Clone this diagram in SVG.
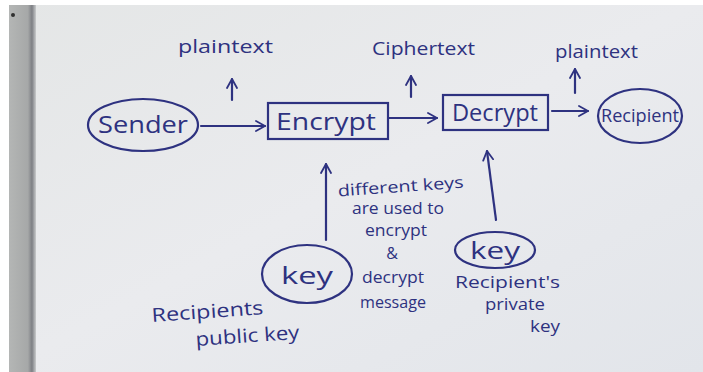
<svg xmlns="http://www.w3.org/2000/svg" width="703" height="372" viewBox="0 0 703 372">
  <defs>
    <linearGradient id="paper" x1="0" y1="0" x2="1" y2="1">
      <stop offset="0" stop-color="#e4e6e6"/>
      <stop offset="0.5" stop-color="#eaebee"/>
      <stop offset="1" stop-color="#e2e5ea"/>
    </linearGradient>
    <linearGradient id="edge" x1="0" y1="0" x2="1" y2="0">
      <stop offset="0" stop-color="#b4b6b5"/>
      <stop offset="0.7" stop-color="#a6a8a8"/>
      <stop offset="0.85" stop-color="#7d7f84"/>
      <stop offset="1" stop-color="#c9cbcc"/>
    </linearGradient>
    <marker id="head" viewBox="0 0 12 12" refX="10" refY="6" markerWidth="12" markerHeight="12" markerUnits="userSpaceOnUse" orient="auto">
      <polyline points="1,1 10,6 1,11" fill="none" stroke="#2e3280" stroke-width="1.8" stroke-linecap="round" stroke-linejoin="round"/>
    </marker>
    <style>
      .ink { fill: none; stroke: #2e3280; stroke-width: 2.2; stroke-linecap: round; }
      .txt { font-family: "Open Sans", "DejaVu Sans", sans-serif; fill: #2e3280; }
      .node { font-size: 23px; text-anchor: middle; }
      .lbl { font-size: 18px; }
      .note { font-size: 16px; text-anchor: middle; }
    </style>
  </defs>

  <!-- page background -->
  <rect x="0" y="0" width="703" height="372" fill="url(#paper)"/>
  <rect x="0" y="0" width="703" height="5" fill="#ffffff"/>
  <rect x="0" y="5" width="9" height="367" fill="#ffffff"/>
  <rect x="9" y="5" width="27" height="367" fill="url(#edge)"/>
  <circle cx="13" cy="15" r="2" fill="#303030"/>

  <!-- connectors -->
  <g id="connectors" class="ink">
    <line x1="201" y1="126" x2="265" y2="126" marker-end="url(#head)"/>
    <line x1="389" y1="118" x2="437" y2="118" marker-end="url(#head)"/>
    <line x1="552" y1="111" x2="588" y2="111" marker-end="url(#head)"/>
    <line x1="232" y1="100" x2="232" y2="79" marker-end="url(#head)"/>
    <line x1="411" y1="97" x2="411" y2="76" marker-end="url(#head)"/>
    <line x1="575" y1="93" x2="575" y2="69" marker-end="url(#head)"/>
    <line x1="326" y1="240" x2="326" y2="164" marker-end="url(#head)"/>
    <line x1="496" y1="220" x2="487" y2="151" marker-end="url(#head)"/>
  </g>

  <!-- flow labels -->
  <g id="labels" class="txt lbl">
    <text x="178" y="53" textLength="95" lengthAdjust="spacingAndGlyphs">plaintext</text>
    <text x="372" y="55" textLength="103" lengthAdjust="spacingAndGlyphs">Ciphertext</text>
    <text x="555" y="58" textLength="83" lengthAdjust="spacingAndGlyphs">plaintext</text>
  </g>

  <g id="sender">
    <ellipse class="ink" cx="143" cy="125" rx="55" ry="26"/>
    <text class="txt node" x="143" y="133" textLength="90" lengthAdjust="spacingAndGlyphs">Sender</text>
  </g>

  <g id="encrypt">
    <rect class="ink" x="268" y="103" width="120" height="36"/>
    <text class="txt node" x="326" y="130" textLength="100" lengthAdjust="spacingAndGlyphs">Encrypt</text>
  </g>

  <g id="decrypt">
    <rect class="ink" x="443" y="95" width="105" height="35"/>
    <text class="txt node" x="495" y="121" textLength="86" lengthAdjust="spacingAndGlyphs">Decrypt</text>
  </g>

  <g id="recipient">
    <ellipse class="ink" cx="640" cy="116" rx="42" ry="27"/>
    <text class="txt" x="640" y="122" font-size="18" text-anchor="middle" textLength="78" lengthAdjust="spacingAndGlyphs">Recipient</text>
  </g>

  <g id="public-key">
    <ellipse class="ink" cx="307" cy="274" rx="45" ry="29"/>
    <text class="txt node" x="307" y="284" font-size="28" textLength="52" lengthAdjust="spacingAndGlyphs">key</text>
    <text class="txt" x="152" y="322" font-size="19" transform="rotate(-4 152 322)" textLength="112" lengthAdjust="spacingAndGlyphs">Recipients</text>
    <text class="txt" x="196" y="346" font-size="19" transform="rotate(-4 196 346)" textLength="104" lengthAdjust="spacingAndGlyphs">public key</text>
  </g>

  <g id="private-key">
    <ellipse class="ink" cx="495" cy="250" rx="40" ry="18"/>
    <text class="txt node" x="495" y="259" font-size="25" textLength="50" lengthAdjust="spacingAndGlyphs">key</text>
    <text class="txt" x="455" y="288" font-size="16" textLength="105" lengthAdjust="spacingAndGlyphs">Recipient's</text>
    <text class="txt" x="485" y="310" font-size="16" textLength="60" lengthAdjust="spacingAndGlyphs">private</text>
    <text class="txt" x="530" y="332" font-size="16" textLength="30" lengthAdjust="spacingAndGlyphs">key</text>
  </g>

  <g id="note" class="txt note">
    <text x="401" y="192" transform="rotate(-4 401 192)" textLength="126" lengthAdjust="spacingAndGlyphs">different keys</text>
    <text x="398" y="214" textLength="92" lengthAdjust="spacingAndGlyphs">are used to</text>
    <text x="396" y="236" textLength="62" lengthAdjust="spacingAndGlyphs">encrypt</text>
    <text x="392" y="259">&amp;</text>
    <text x="393" y="283" textLength="62" lengthAdjust="spacingAndGlyphs">decrypt</text>
    <text x="393" y="308" textLength="66" lengthAdjust="spacingAndGlyphs">message</text>
  </g>
</svg>
